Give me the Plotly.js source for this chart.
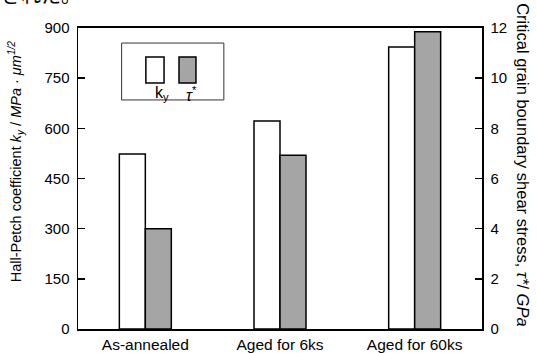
<!DOCTYPE html>
<html>
<head>
<meta charset="utf-8">
<script src="https://cdn.plot.ly/plotly-3.0.1.min.js"></script>
<style>
  html, body { margin: 0; padding: 0; background: #fff; }
  #chart { width: 537px; height: 353px; }
</style>
</head>
<body>
<div id="chart"></div>
<script>
// Sample conditions
const categories = ['As-annealed', 'Aged for 6ks', 'Aged for 60ks'];
// Hall-Petch coefficient k_y (MPa·µm^1/2), left axis
const kyValues = [523, 622, 843];
// Critical grain boundary shear stress τ* (GPa), right axis
const tauValues = [4.0, 6.93, 11.85];
// Axis ticks
const leftTicks = [0, 150, 300, 450, 600, 750, 900];
const rightTicks = [0, 2, 4, 6, 8, 10, 12];

const FONT = 'Liberation Sans, Arial, sans-serif';
const BAR_W = 0.193;
const GRAY = '#a5a5a5';

const traces = [
  {
    type: 'bar', name: 'k_y', x: categories, y: kyValues,
    yaxis: 'y', width: BAR_W, offset: -BAR_W,
    marker: { color: '#ffffff', line: { color: '#000', width: 1.5 } },
    hoverinfo: 'skip'
  },
  {
    type: 'bar', name: 'τ*', x: categories, y: tauValues,
    yaxis: 'y2', width: BAR_W, offset: 0,
    marker: { color: GRAY, line: { color: '#000', width: 1.5 } },
    hoverinfo: 'skip'
  }
];

const layout = {
  width: 537, height: 353,
  margin: { l: 78, r: 55, t: 28, b: 24 },
  paper_bgcolor: '#fff', plot_bgcolor: '#fff',
  showlegend: false,
  barmode: 'overlay',
  font: { family: FONT, size: 15, color: '#000' },
  xaxis: {
    range: [-0.5, 2.5], showline: true, linecolor: '#000', linewidth: 2,
    mirror: true, ticks: '', showgrid: false, zeroline: false,
    tickfont: { family: FONT, size: 15.5, color: '#000' },
    ticklabelstandoff: 0
  },
  yaxis: {
    range: [0, 900], tickvals: leftTicks, ticks: 'inside', ticklen: 7,
    tickwidth: 1.5, tickcolor: '#000', showline: true, linecolor: '#000',
    linewidth: 1.5, showgrid: false, zeroline: false,
    tickfont: { family: FONT, size: 15, color: '#000' },
    ticklabelstandoff: 4
  },
  yaxis2: {
    range: [0, 12], tickvals: rightTicks, overlaying: 'y', side: 'right',
    ticks: 'inside', ticklen: 7, tickwidth: 1.5, tickcolor: '#000',
    showline: true, linecolor: '#000', linewidth: 1.5, showgrid: false,
    zeroline: false, tickfont: { family: FONT, size: 15, color: '#000' },
    ticklabelstandoff: 4
  },
  shapes: [
    // legend frame
    { type: 'rect', xref: 'paper', yref: 'paper', x0: 0.108, x1: 0.361, y0: 0.761, y1: 0.950,
      line: { color: '#333', width: 1 }, fillcolor: 'rgba(0,0,0,0)' },
    // legend swatches
    { type: 'rect', xref: 'paper', yref: 'paper', x0: 0.168, x1: 0.213, y0: 0.817, y1: 0.904,
      line: { color: '#000', width: 1.5 }, fillcolor: '#fff' },
    { type: 'rect', xref: 'paper', yref: 'paper', x0: 0.250, x1: 0.292, y0: 0.817, y1: 0.904,
      line: { color: '#000', width: 1.5 }, fillcolor: GRAY }
  ],
  annotations: [
    { xref: 'paper', yref: 'paper', x: 0.186, y: 0.822, yanchor: 'top', text: 'k<sub>y</sub>',
      showarrow: false, font: { family: FONT, size: 16, color: '#000' } },
    { xref: 'paper', yref: 'paper', x: 0.263, y: 0.822, yanchor: 'top', text: '<i>τ</i><sup>*</sup>',
      showarrow: false, font: { family: FONT, size: 16, color: '#000' } },
    // left axis title
    { xref: 'paper', yref: 'paper', x: -0.153, y: 0.558, xanchor: 'center', yanchor: 'middle',
      textangle: -90, showarrow: false,
      text: 'Hall-Petch coefficient <i>k<sub>y</sub></i> / <i>MPa · μm<sup>1/2</sup></i>',
      font: { family: FONT, size: 14.5, color: '#000' } },
    // right axis title
    { xref: 'paper', yref: 'paper', x: 1.101, y: 0.545, xanchor: 'center', yanchor: 'middle',
      textangle: 90, showarrow: false,
      text: 'Critical grain boundary shear stress, <i>τ*</i>/ <i>GPa</i>',
      font: { family: FONT, size: 16.5, color: '#000' } },
    // trailing text of the preceding paragraph
    { xref: 'paper', yref: 'paper', x: -0.195, y: 1.112, xanchor: 'left', yanchor: 'middle',
      showarrow: false, text: 'された。',
      font: { family: 'Noto Sans CJK JP, sans-serif', size: 20, color: '#000' } }
  ]
};

Plotly.newPlot('chart', traces, layout, { staticPlot: true, displayModeBar: false });
</script>
</body>
</html>
